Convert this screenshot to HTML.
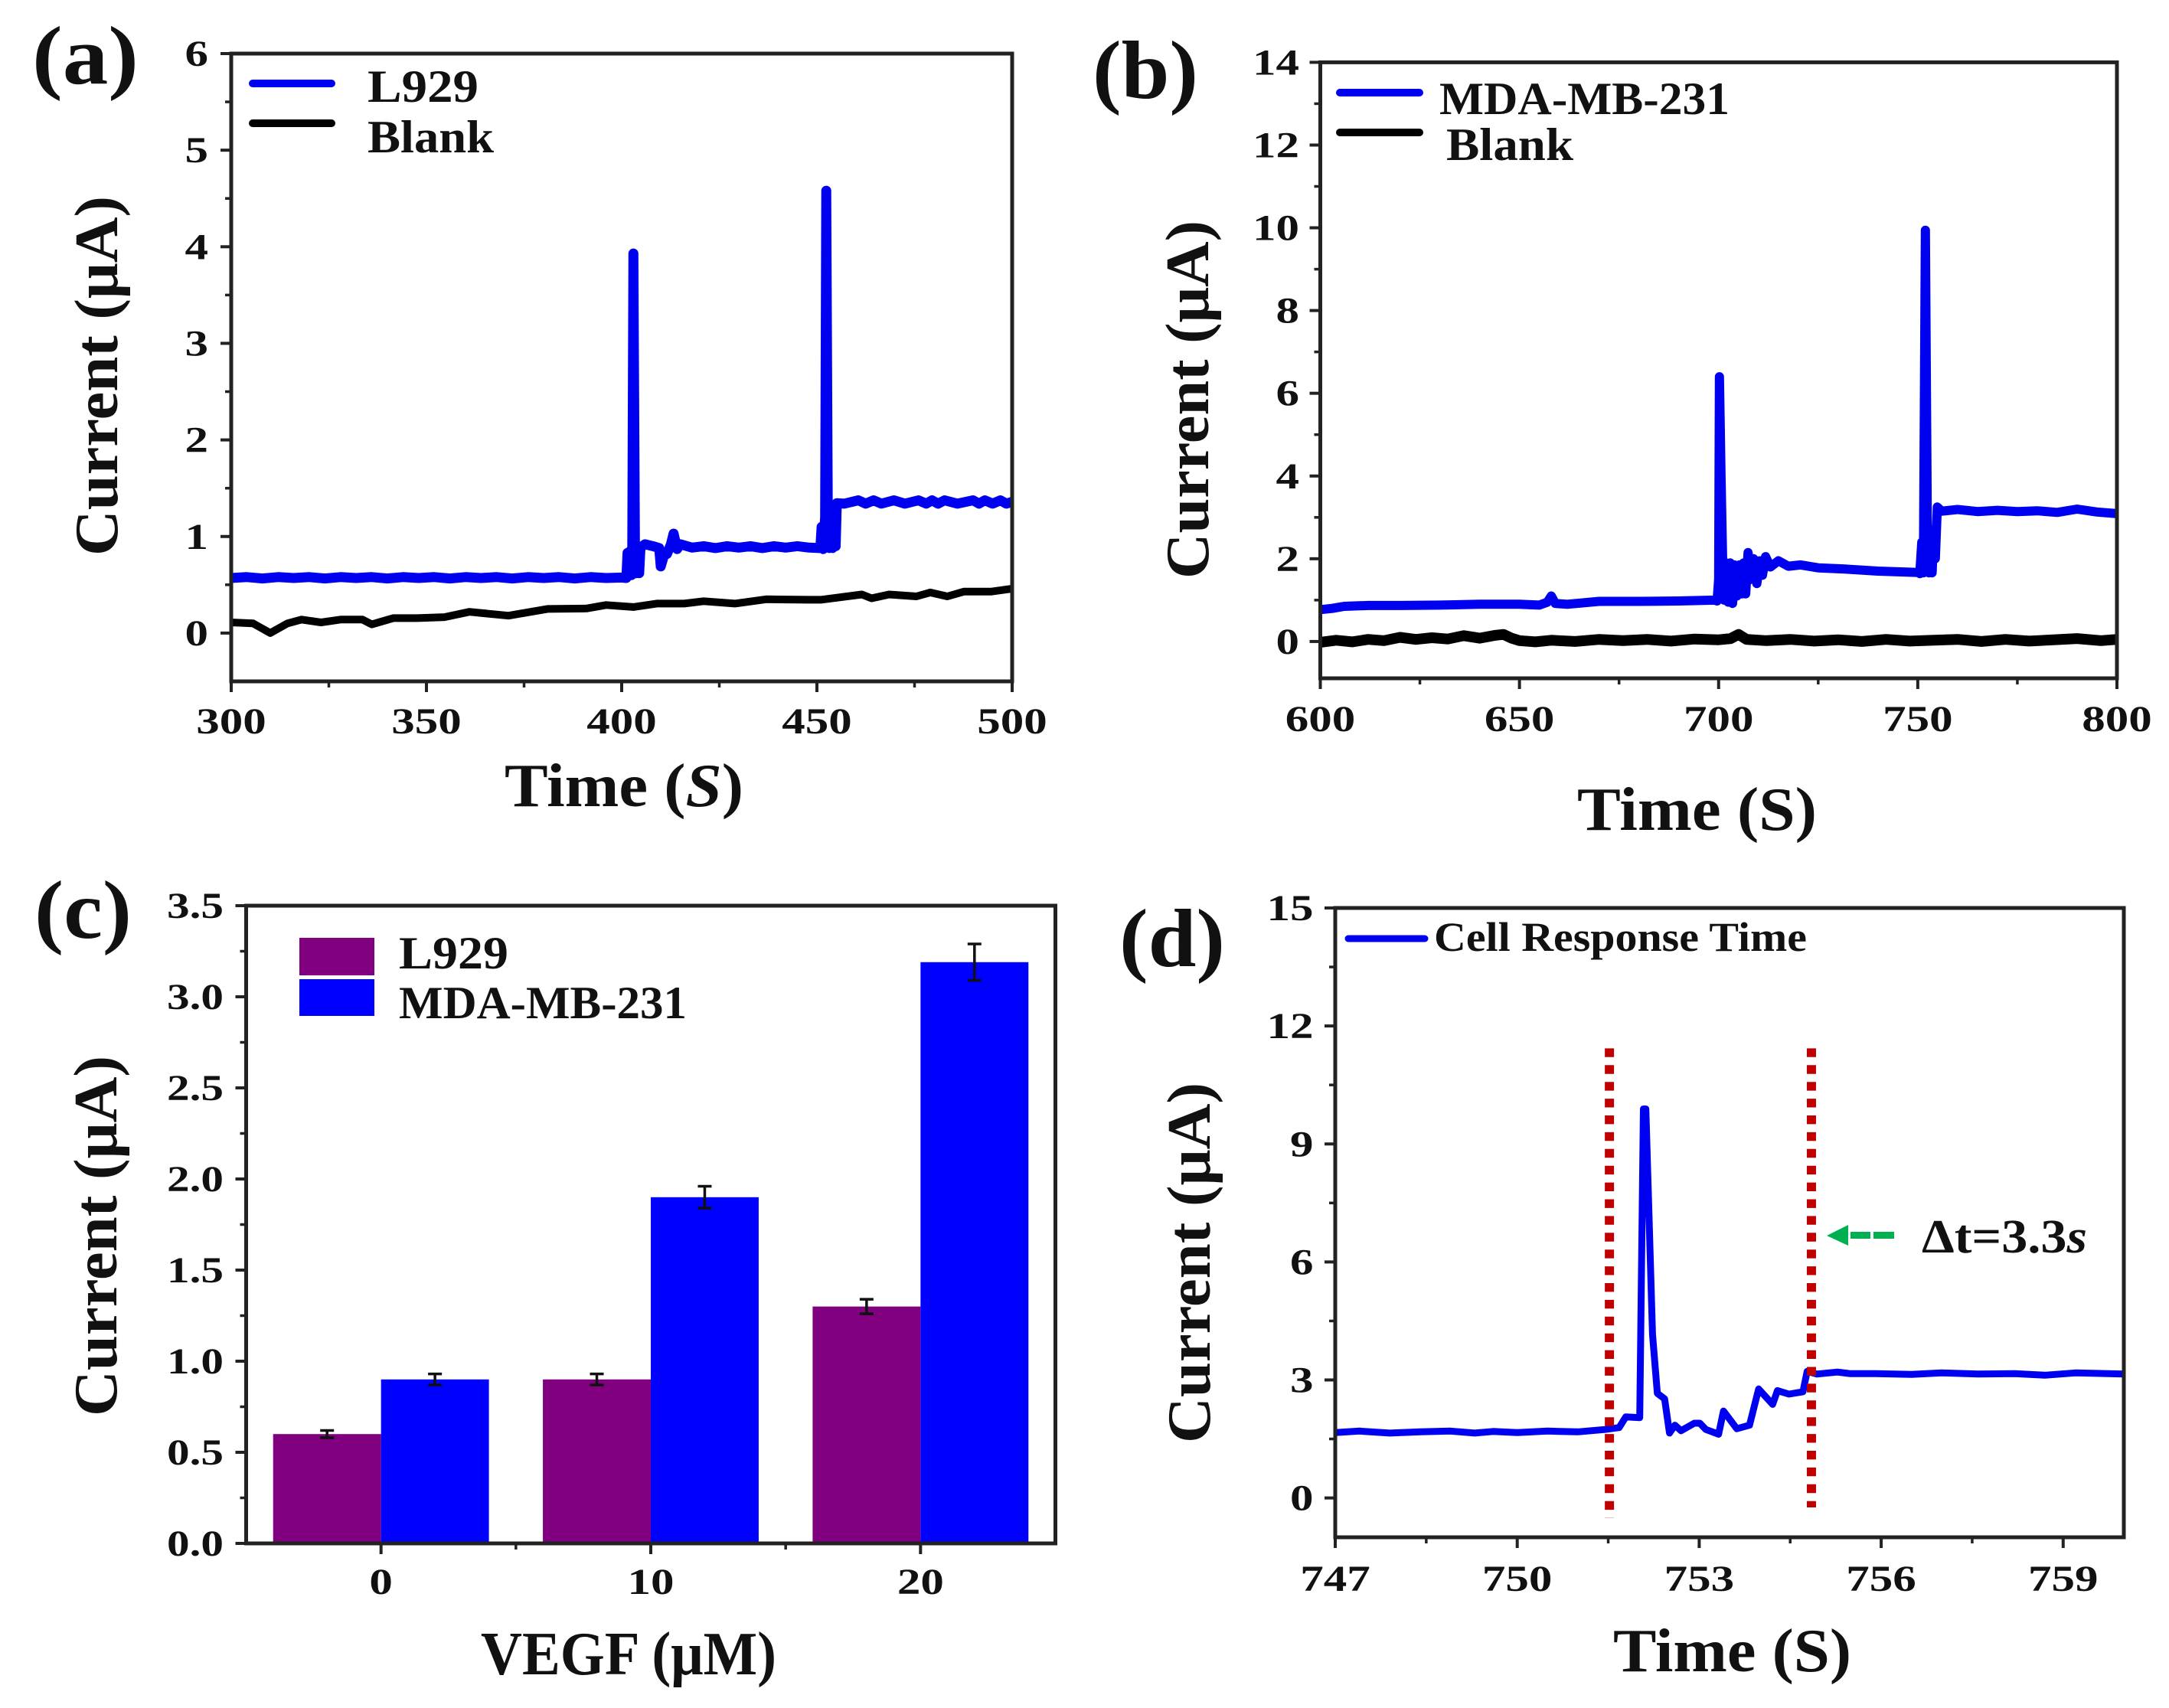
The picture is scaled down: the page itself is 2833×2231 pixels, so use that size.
<!DOCTYPE html>
<html lang="en">
<head>
<meta charset="utf-8">
<title>Current response charts</title>
<style>
html,body{margin:0;padding:0;background:#fff;}
svg{display:block;}
text{font-family:"Liberation Serif","DejaVu Serif",serif;font-weight:bold;fill:#111;}
</style>
</head>
<body>
<svg id="figure" xmlns="http://www.w3.org/2000/svg" width="2833" height="2231" viewBox="0 0 2833 2231">
<rect x="0" y="0" width="2833" height="2231" fill="#fff"/>

<g id="panel-a">
<text x="42" y="109" font-size="108" textLength="139" lengthAdjust="spacingAndGlyphs">(a)</text>
<text transform="translate(153,726) rotate(-90)" font-size="80" textLength="470" lengthAdjust="spacingAndGlyphs">Current (μA)</text>
<text x="659" y="1053" font-size="80" textLength="312" lengthAdjust="spacingAndGlyphs">Time (<tspan font-style="italic">S</tspan>)</text>
<line x1="330" y1="109" x2="433" y2="109" stroke="#0000f0" stroke-width="10" stroke-linecap="round"/>
<line x1="330" y1="161" x2="433" y2="161" stroke="#000" stroke-width="10" stroke-linecap="round"/>
<text x="480" y="133" font-size="60" textLength="145" lengthAdjust="spacingAndGlyphs">L929</text>
<text x="480" y="199" font-size="60" textLength="165" lengthAdjust="spacingAndGlyphs">Blank</text>
</g>

<g id="panel-b">
<text x="1427" y="128" font-size="108" textLength="138" lengthAdjust="spacingAndGlyphs">(b)</text>
<text transform="translate(1578,756) rotate(-90)" font-size="80" textLength="468" lengthAdjust="spacingAndGlyphs">Current (μA)</text>
<text x="2060" y="1084" font-size="80" textLength="313" lengthAdjust="spacingAndGlyphs">Time (S)</text>
<line x1="1750" y1="121" x2="1854" y2="121" stroke="#0000f0" stroke-width="10" stroke-linecap="round"/>
<line x1="1750" y1="173" x2="1854" y2="173" stroke="#000" stroke-width="10" stroke-linecap="round"/>
<text x="1880" y="149" font-size="60" textLength="379" lengthAdjust="spacingAndGlyphs">MDA-MB-231</text>
<text x="1889" y="209" font-size="60" textLength="166" lengthAdjust="spacingAndGlyphs">Blank</text>
</g>

<g id="panel-c">
<text x="45" y="1225" font-size="108" textLength="127" lengthAdjust="spacingAndGlyphs">(c)</text>
<text transform="translate(152,1850) rotate(-90)" font-size="80" textLength="471" lengthAdjust="spacingAndGlyphs">Current (μA)</text>
<text x="628" y="2187" font-size="80" textLength="386" lengthAdjust="spacingAndGlyphs">VEGF (μM)</text>
<rect x="391" y="1225" width="98" height="49" fill="#800080"/>
<rect x="391" y="1279" width="98" height="48" fill="#0000ff"/>
<text x="521" y="1265" font-size="60" textLength="143" lengthAdjust="spacingAndGlyphs">L929</text>
<text x="521" y="1330" font-size="60" textLength="376" lengthAdjust="spacingAndGlyphs">MDA-MB-231</text>
</g>

<g id="panel-d">
<text x="1462" y="1262" font-size="108" textLength="138" lengthAdjust="spacingAndGlyphs">(d)</text>
<text transform="translate(1580,1885) rotate(-90)" font-size="80" textLength="471" lengthAdjust="spacingAndGlyphs">Current (μA)</text>
<text x="2107" y="2183" font-size="80" textLength="311" lengthAdjust="spacingAndGlyphs">Time (S)</text>
<line x1="1761" y1="1226" x2="1861" y2="1226" stroke="#0000f0" stroke-width="9" stroke-linecap="round"/>
<text x="1873" y="1242" font-size="54" textLength="487" lengthAdjust="spacingAndGlyphs">Cell Response Time</text>
<text x="2510" y="1636" font-size="62" textLength="216" lengthAdjust="spacingAndGlyphs">Δt=3.3<tspan font-style="italic">s</tspan></text>
<polygon points="2386,1614 2414,1600 2414,1627" fill="#00b050"/>
<rect x="2417" y="1609" width="26" height="9" fill="#00b050"/>
<rect x="2447" y="1609" width="27" height="9" fill="#00b050"/>
</g>
</svg>

<script>
// ---------- Panel (a) data ----------
const aXTicks = [300, 350, 400, 450, 500];
const aXMinor = [325, 375, 425, 475];
const aYTicks = [0, 1, 2, 3, 4, 5, 6];
const aYMinor = [0.5, 1.5, 2.5, 3.5, 4.5, 5.5];
const aBlueTime = [300,304,308,312,316,320,324,328,332,336,340,344,348,352,356,360,364,368,372,376,380,384,388,392,396,400,
  401.2,401.5,401.9,402.2,402.5,402.7,403.0,403.4,403.7,404.1,404.5,404.8,405.3,
  406,408,409.6,410,410.8,411.6,412.6,413.3,414.2,415,
  418,421,424,427,430,433,436,439,442,445,448,
  450.6,450.9,451.2,451.6,452.1,452.4,452.8,453.2,453.6,454,454.4,454.8,455.1,
  457,460.6,462.5,464.5,466.5,469.7,472.5,476,478,479.5,481,482.7,486,490,491.5,493,495,497,498.5,500];
const aBlueValue = [.57,.58,.565,.58,.57,.58,.565,.58,.57,.58,.565,.58,.57,.58,.565,.58,.57,.58,.565,.58,.57,.58,.565,.58,.57,.575,
  .57,.83,.6,.85,.6,.85,3.93,.95,.62,.85,.62,.88,.9,
  .92,.9,.88,.69,.8,.82,.92,1.03,.87,.92,
  .885,.9,.88,.9,.885,.9,.88,.9,.885,.9,.885,
  .88,.9,1.1,.87,1.2,4.58,1.1,.88,1.3,.88,1.3,.9,1.345,
  1.34,1.375,1.34,1.375,1.34,1.375,1.34,1.375,1.34,1.375,1.34,1.375,1.34,1.375,1.34,1.375,1.34,1.375,1.34,1.36];
const aBlankTime = [300,305.6,310,314.4,318,323,328,333.6,336,341.5,347.6,354.6,361,371,381,391,396,403,409,416,421,429,437,447.5,451,461.5,464,468.5,475.5,479,483.4,487.7,494.7,500];
const aBlankValue = [.11,.10,0,.10,.14,.11,.14,.14,.09,.155,.155,.165,.22,.18,.25,.255,.29,.27,.305,.305,.33,.305,.35,.345,.345,.40,.36,.40,.38,.42,.38,.43,.43,.46];

// ---------- Panel (b) data ----------
const bXTicks = [600, 650, 700, 750, 800];
const bXMinor = [625, 675, 725, 775];
const bYTicks = [0, 2, 4, 6, 8, 10, 12, 14];
const bYMinor = [1, 3, 5, 7, 9, 11, 13];
const bBlueTime = [600,603,606,612,620,630,640,650,655,657,658,659,662,670,680,690,699,699.6,
  700,700.2,700.6,701,701.4,701.9,702.4,702.9,703.5,704,704.6,705.2,705.8,706.3,706.8,707.4,708,708.8,709.6,710.3,711,711.8,
  713,715,717.5,720.6,725,731.7,740,750,750.5,751,751.4,751.9,752.4,752.8,753.2,753.6,754,754.4,754.9,
  756,760,765,770,775,780,785,790,795,800];
const bBlueValue = [.77,.8,.85,.87,.87,.88,.9,.9,.88,.95,1.1,.92,.9,.97,.97,.98,1.0,.98,
  1.5,6.4,4.0,1.95,1.0,1.9,.95,1.9,.92,1.85,1.1,1.85,1.15,1.9,1.15,2.15,1.5,2.0,1.4,1.95,1.6,2.05,
  1.8,1.95,1.82,1.85,1.78,1.75,1.7,1.67,1.64,2.4,1.66,9.94,2.6,1.66,2.6,1.66,2.7,2.0,3.25,
  3.15,3.19,3.14,3.17,3.14,3.16,3.12,3.2,3.13,3.09];
const bBlankTime = [600,604,608,612,616,620,624,628,632,636,640,644,646,648,650,654,658,664,670,676,682,688,694,700,703,705,707,712,718,724,730,736,742,748,754,760,766,772,778,784,790,796,800];
const bBlankValue = [-.02,.03,-.01,.05,.02,.1,.05,.09,.06,.14,.08,.15,.17,.08,.02,-.01,.03,.0,.05,.02,.05,.01,.06,.04,.07,.17,.05,.02,.05,.01,.04,.0,.05,.01,.03,.05,.0,.05,.01,.04,.07,.02,.05];

// ---------- Panel (c) data ----------
const cCategories = [0, 10, 20];
const cXMinor = [5, 15];
const cYTicks = [0, 0.5, 1, 1.5, 2, 2.5, 3, 3.5];
const cYTickLabels = ['0.0', '0.5', '1.0', '1.5', '2.0', '2.5', '3.0', '3.5'];
const cYMinor = [.25, .75, 1.25, 1.75, 2.25, 2.75, 3.25];
const cL929 = [0.6, 0.9, 1.3];
const cMda = [0.9, 1.9, 3.19];
const cL929Err = [0.02, 0.03, 0.04];
const cMdaErr = [0.03, 0.06, 0.10];
const cBarWidth = 4;

// ---------- Panel (d) data ----------
const dXTicks = [747, 750, 753, 756, 759];
const dXMinor = [748.5, 751.5, 754.5, 757.5];
const dYTicks = [0, 3, 6, 9, 12, 15];
const dYMinor = [1.5, 4.5, 7.5, 10.5, 13.5];
const dTime = [747,747.4,747.9,748.4,748.9,749.3,749.6,750,750.5,751,751.45,751.68,751.79,752.02,752.08,752.12,752.23,752.31,752.43,752.51,752.6,752.7,752.92,753.01,753.11,753.32,753.4,753.62,753.83,753.98,754.21,754.29,754.48,754.71,754.78,754.94,755.28,755.49,755.91,756.5,757,757.6,758.2,758.7,759.2,760];
const dValue = [1.66,1.7,1.65,1.68,1.7,1.65,1.69,1.66,1.7,1.68,1.74,1.79,2.06,2.04,9.89,9.89,4.16,2.66,2.52,1.65,1.85,1.71,1.9,1.9,1.74,1.62,2.21,1.76,1.85,2.77,2.38,2.73,2.64,2.7,3.22,3.15,3.2,3.16,3.16,3.14,3.18,3.15,3.16,3.12,3.18,3.15];
const dMarkerTimes = [751.52, 754.85];
const dMarkerTop = [11.43, 11.43];
const dMarkerBottom = [-0.51, -0.24];

// ---------- Layout (panel frames and axis ranges) ----------
const frameA = {l:302, r:1322, t:70, b:890, x0:300, x1:500, y0:-0.5, y1:6};
const frameB = {l:1724.5, r:2765, t:81.4, b:886, x0:600, x1:800, y0:-0.89, y1:14};
const frameC = {l:321.5, r:1378.5, t:1183, b:2016, x0:-5, x1:25, y0:0, y1:3.5};
const frameD = {l:1744, r:2774, t:1186, b:2008, x0:747, x1:760, y0:-1, y1:15};

const NS = 'http://www.w3.org/2000/svg';
function xScale(f, v) { return f.l + (v - f.x0) / (f.x1 - f.x0) * (f.r - f.l); }
function yScale(f, v) { return f.b - (v - f.y0) / (f.y1 - f.y0) * (f.b - f.t); }
function tickWidth(s) {
  let w = 0;
  for (const c of s) { w += c === '.' ? 13 : 30.5; }
  return w;
}
function addLine(parent, x1, y1, x2, y2, color, width, name) {
  const el = document.createElementNS(NS, 'line');
  el.setAttribute('x1', x1);
  el.setAttribute('y1', y1);
  el.setAttribute('x2', x2);
  el.setAttribute('y2', y2);
  el.setAttribute('stroke', color);
  el.setAttribute('stroke-width', width);
  
  
  parent.appendChild(el);
  return el;
}
function addText(parent, str, x, y, anchor, name) {
  const el = document.createElementNS(NS, 'text');
  el.setAttribute('x', x);
  el.setAttribute('y', y);
  el.setAttribute('font-size', 48);
  el.setAttribute('text-anchor', anchor);
  el.setAttribute('textLength', tickWidth(str));
  el.setAttribute('lengthAdjust', 'spacingAndGlyphs');
  
  
  el.textContent = str;
  parent.appendChild(el);
}
function addSeries(parent, f, times, values, color, width, name) {
  const el = document.createElementNS(NS, 'polyline');
  let pts = '';
  for (let i = 0; i < times.length; i++) {
    pts += xScale(f, times[i]).toFixed(1) + ',' + yScale(f, values[i]).toFixed(1) + ' ';
  }
  el.setAttribute('points', pts);
  el.setAttribute('fill', 'none');
  el.setAttribute('stroke', color);
  el.setAttribute('stroke-width', width);
  el.setAttribute('stroke-linejoin', 'round');
  
  
  parent.appendChild(el);
}
function addBar(parent, f, x0, x1, value, color, name) {
  const el = document.createElementNS(NS, 'rect');
  el.setAttribute('x', xScale(f, x0));
  el.setAttribute('y', yScale(f, value));
  el.setAttribute('width', xScale(f, x1) - xScale(f, x0));
  el.setAttribute('height', yScale(f, 0) - yScale(f, value));
  el.setAttribute('fill', color);
  
  
  parent.appendChild(el);
}
function addErrorBar(parent, f, x, value, err, name) {
  const cx = xScale(f, x);
  addLine(parent, cx, yScale(f, value - err), cx, yScale(f, value + err), '#111', 3.5, name);
  addLine(parent, cx - 9, yScale(f, value + err), cx + 9, yScale(f, value + err), '#111', 3.5, name + '-cap-top');
  addLine(parent, cx - 9, yScale(f, value - err), cx + 9, yScale(f, value - err), '#111', 3.5, name + '-cap-bottom');
}
function addAxes(parent, f, xTicks, xLabels, xMinor, yTicks, yLabels, yMinor, labelOpts) {
  const axisColor = '#222';
  const frame = document.createElementNS(NS, 'rect');
  frame.setAttribute('x', f.l);
  frame.setAttribute('y', f.t);
  frame.setAttribute('width', f.r - f.l);
  frame.setAttribute('height', f.b - f.t);
  frame.setAttribute('fill', 'none');
  frame.setAttribute('stroke', axisColor);
  frame.setAttribute('stroke-width', 5);
  
  
  parent.appendChild(frame);
  xTicks.forEach(function (v, i) {
    const x = xScale(f, v);
    addLine(parent, x, f.b, x, f.b + 14, axisColor, 4, 'x-tick');
    addText(parent, xLabels[i], x, labelOpts.xBase, 'middle', 'x-tick-label');
  });
  xMinor.forEach(function (v) {
    const x = xScale(f, v);
    addLine(parent, x, f.b, x, f.b + 8, axisColor, 3.5, 'x-minor-tick');
  });
  yTicks.forEach(function (v, i) {
    const y = yScale(f, v);
    addLine(parent, f.l - 14, y, f.l, y, axisColor, 4, 'y-tick');
    addText(parent, yLabels[i], labelOpts.yRight, y + 16, 'end', 'y-tick-label');
  });
  yMinor.forEach(function (v) {
    const y = yScale(f, v);
    addLine(parent, f.l - 8, y, f.l, y, axisColor, 3.5, 'y-minor-tick');
  });
}
function asLabels(arr) { return arr.map(String); }

// Panel (a)
const gA = document.getElementById('panel-a');
addSeries(gA, frameA, aBlankTime, aBlankValue, '#000', 10, 'blank-line-a');
addSeries(gA, frameA, aBlueTime, aBlueValue, '#0000f0', 13, 'l929-line');
addAxes(gA, frameA, aXTicks, asLabels(aXTicks), aXMinor, aYTicks, asLabels(aYTicks), aYMinor, {xBase: 958, yRight: 272});

// Panel (b)
const gB = document.getElementById('panel-b');
addSeries(gB, frameB, bBlankTime, bBlankValue, '#000', 14, 'blank-line-b');
addSeries(gB, frameB, bBlueTime, bBlueValue, '#0000f0', 12, 'mda-line');
addAxes(gB, frameB, bXTicks, asLabels(bXTicks), bXMinor, bYTicks, asLabels(bYTicks), bYMinor, {xBase: 955, yRight: 1697});

// Panel (c)
const gC = document.getElementById('panel-c');
cCategories.forEach(function (cat, i) {
  addBar(gC, frameC, cat - cBarWidth, cat, cL929[i], '#800080', 'bar-l929-' + cat);
  addBar(gC, frameC, cat, cat + cBarWidth, cMda[i], '#0000ff', 'bar-mda-' + cat);
  addErrorBar(gC, frameC, cat - cBarWidth / 2, cL929[i], cL929Err[i], 'error-bar-l929-' + cat);
  addErrorBar(gC, frameC, cat + cBarWidth / 2, cMda[i], cMdaErr[i], 'error-bar-mda-' + cat);
});
addAxes(gC, frameC, cCategories, asLabels(cCategories), cXMinor, cYTicks, cYTickLabels, cYMinor, {xBase: 2082, yRight: 292});

// Panel (d)
const gD = document.getElementById('panel-d');
addSeries(gD, frameD, dTime, dValue, '#0000f0', 9, 'response-line');
dMarkerTimes.forEach(function (t, i) {
  const x = xScale(frameD, t);
  const mark = addLine(gD, x, yScale(frameD, dMarkerTop[i]), x, yScale(frameD, dMarkerBottom[i]), '#c00000', 12, 'response-marker-' + i);
  mark.setAttribute('stroke-dasharray', '11.4 10.5');
});
addAxes(gD, frameD, dXTicks, asLabels(dXTicks), dXMinor, dYTicks, asLabels(dYTicks), dYMinor, {xBase: 2078, yRight: 1715.5});
</script>
</body>
</html>
